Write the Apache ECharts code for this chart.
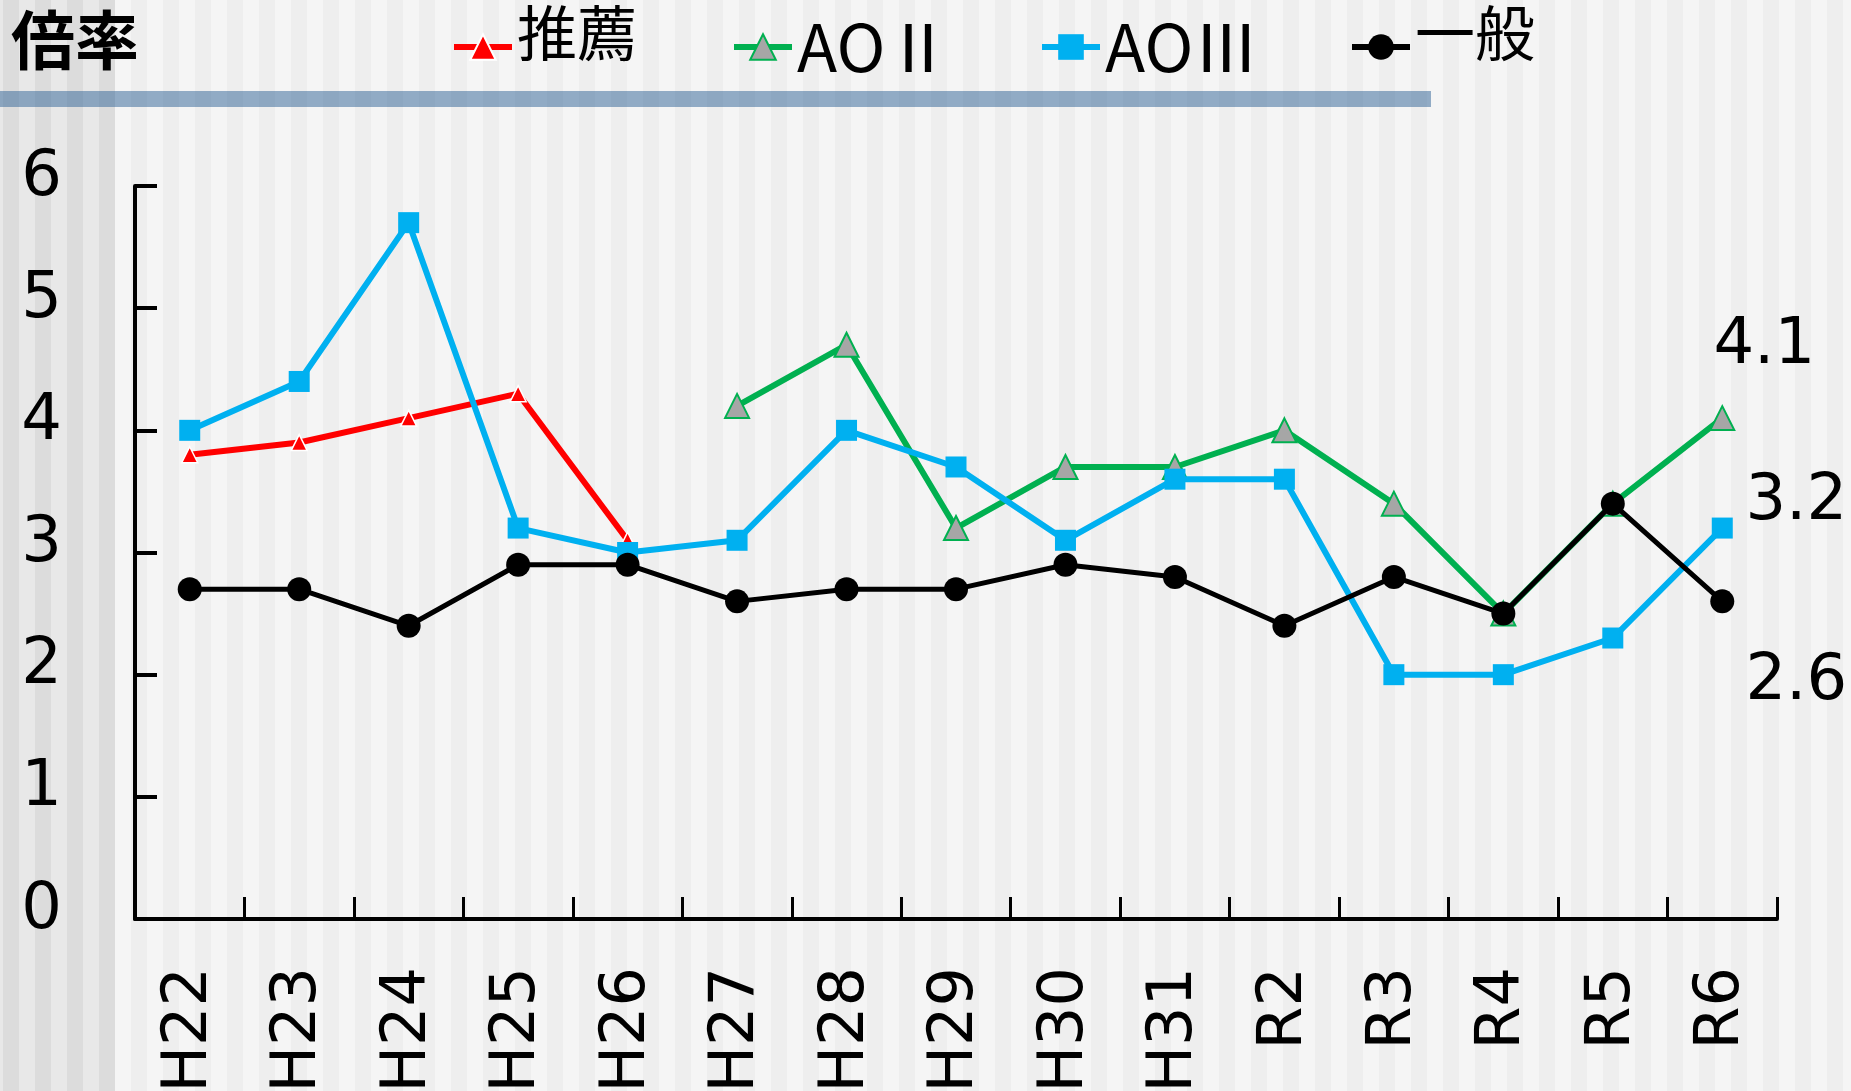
<!DOCTYPE html>
<html>
<head>
<meta charset="utf-8">
<script src="https://cdn.jsdelivr.net/npm/echarts@6/dist/echarts.min.js"></script>
<style>
html,body{margin:0;padding:0;}
#wrap{position:relative;width:1851px;height:1091px;overflow:hidden;
 background:repeating-linear-gradient(90deg,#eeeeee 0 16px,#f5f5f5 16px 32px);background-position:3px 0;}
#left{position:absolute;left:0;top:0;width:115px;height:1091px;
 background:repeating-linear-gradient(90deg,#dcdcdc 0 16px,#e8e8e8 16px 32px);background-position:3px 0;}
#chart{position:absolute;left:0;top:0;width:1851px;height:1091px;}
</style>
</head>
<body>
<div id="wrap"><div id="left"></div><div id="chart"></div></div>
<script>
// ---- data ----
const categories = ['H22','H23','H24','H25','H26','H27','H28','H29','H30','H31','R2','R3','R4','R5','R6'];
const suisen = [3.8, 3.9, 4.1, 4.3, 3.1, null, null, null, null, null, null, null, null, null, null];
const ao2    = [null, null, null, null, null, 4.2, 4.7, 3.2, 3.7, 3.7, 4.0, 3.4, 2.5, 3.4, 4.1];
const ao3    = [4.0, 4.4, 5.7, 3.2, 3.0, 3.1, 4.0, 3.7, 3.1, 3.6, 3.6, 2.0, 2.0, 2.3, 3.2];
const ippan  = [2.7, 2.7, 2.4, 2.9, 2.9, 2.6, 2.7, 2.7, 2.9, 2.8, 2.4, 2.8, 2.5, 3.4, 2.6];
const seriesNames = ['推薦', 'AOⅡ', 'AOⅢ', '一般'];
const yTicks = {min: 0, max: 6, interval: 1};
const title = '倍率';

const numFont = 'DejaVu Sans';
const cjkFont = '"Noto Sans CJK JP"';

function withLastLabel(arr, offset) {
  return arr.map((v, i) => i === arr.length - 1 ? {
    value: v,
    label: {
      show: true, position: 'inside', offset: offset,
      align: 'center', verticalAlign: 'middle',
      fontFamily: numFont, fontSize: 64, color: '#000',
      formatter: p => Number(p.value).toFixed(1)
    }
  } : v);
}

const chart = echarts.init(document.getElementById('chart'), null, {renderer: 'canvas'});

const ITEM_H = 32;
function legendCJK(name, left, top) {
  return {
    data: [name], left: left, top: top, orient: 'horizontal', padding: 0,
    itemWidth: 58, itemHeight: ITEM_H, itemGap: 0, selectedMode: false,
    lineStyle: {width: 6},
    formatter: n => '{a|' + n + '}{b| }',
    textStyle: {
      fontFamily: cjkFont, fontSize: 60, color: '#000',
      rich: {
        a: {fontFamily: cjkFont, fontSize: 60, lineHeight: 60, verticalAlign: 'top', color: '#000'},
        b: {fontFamily: cjkFont, fontSize: 10, lineHeight: 88}
      }
    }
  };
}
function legendLatin(name, left, top) {
  return {
    data: [name], left: left, top: top, orient: 'horizontal', padding: 0,
    itemWidth: 58, itemHeight: ITEM_H, itemGap: 0, selectedMode: false,
    lineStyle: {width: 6},
    textStyle: {fontFamily: cjkFont, fontSize: 66, lineHeight: 66, color: '#000'}
  };
}

const option = {
  animation: false,
  backgroundColor: 'transparent',
  legend: [
    legendCJK(seriesNames[0], 451, 3),
    legendLatin(seriesNames[1], 731, 14),
    legendLatin(seriesNames[2], 1039, 14),
    legendCJK(seriesNames[3], 1349, 3)
  ],
  graphic: [
    {type: 'rect', left: 0, top: 91, shape: {width: 1431, height: 16},
     style: {fill: 'rgba(62,109,157,0.55)'}, z: 0},
    {type: 'text', left: 11, top: 8,
     style: {text: title, font: 'bold 64px "Noto Sans CJK JP"', fill: '#000'}}
  ],
  grid: {left: 135, right: 74, top: 186, bottom: 172, containLabel: false, outerBoundsMode: 'none'},
  xAxis: {
    type: 'category', data: categories, boundaryGap: true,
    axisLine: {show: true, lineStyle: {color: '#000', width: 4}},
    axisTick: {show: true, inside: true, length: 22, lineStyle: {color: '#000', width: 3}},
    axisLabel: {rotate: 90, margin: 48, fontFamily: numFont, fontSize: 62, color: '#000', interval: 0},
    splitLine: {show: false}
  },
  yAxis: {
    type: 'value', min: yTicks.min, max: yTicks.max, interval: yTicks.interval,
    axisLine: {show: true, lineStyle: {color: '#000', width: 4}},
    axisTick: {show: true, inside: true, length: 22, lineStyle: {color: '#000', width: 4}},
    axisLabel: {margin: 73, fontFamily: numFont, fontSize: 64, color: '#000', verticalAlign: 'bottom', lineHeight: 16},
    splitLine: {show: false}
  },
  series: [
    {
      name: seriesNames[0], type: 'line', data: suisen, connectNulls: false,
      symbol: 'triangle', symbolSize: 16, showSymbol: true,
      lineStyle: {color: '#ff0000', width: 6},
      itemStyle: {color: '#ff0000', borderColor: '#ffffff', borderWidth: 1.5},
      z: 2
    },
    {
      name: seriesNames[1], type: 'line', data: withLastLabel(ao2, [42, -72]), connectNulls: false,
      symbol: 'triangle', symbolSize: 24, showSymbol: true,
      lineStyle: {color: '#00b050', width: 6},
      itemStyle: {color: '#a6a6a6', borderColor: '#00b050', borderWidth: 2},
      z: 3
    },
    {
      name: seriesNames[2], type: 'line', data: withLastLabel(ao3, [74, -26]), connectNulls: false,
      symbol: 'rect', symbolSize: 21, showSymbol: true,
      lineStyle: {color: '#00b0f0', width: 6},
      itemStyle: {color: '#00b0f0'},
      z: 4
    },
    {
      name: seriesNames[3], type: 'line', data: withLastLabel(ippan, [74, 81]), connectNulls: false,
      symbol: 'circle', symbolSize: 24, showSymbol: true,
      lineStyle: {color: '#000000', width: 5},
      itemStyle: {color: '#000000'},
      z: 5
    }
  ]
};
chart.setOption(option);
</script>
</body>
</html>
